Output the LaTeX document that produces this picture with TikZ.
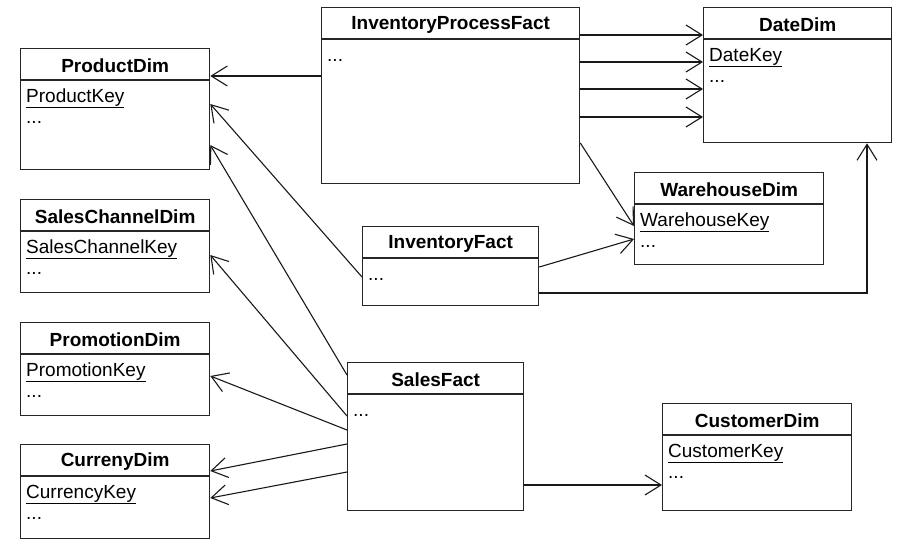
\documentclass[tikz,border=0pt]{standalone}
\usepackage{fontspec}
\setmainfont{Liberation Sans}
\usetikzlibrary{arrows.meta}
\tikzset{
  tbl/.style={draw=black!85, line width=1.3pt, rectangle, anchor=north west, inner sep=0pt},
  hdr/.style={draw=black!85, line width=1.3pt},
  ttl/.style={font=\fontsize{19}{21}\selectfont\bfseries, anchor=center, inner sep=0pt},
  attr/.style={font=\fontsize{19}{21}\selectfont, anchor=base west, inner sep=0pt},
  arr/.style={draw=black!90, line width=1.1pt, -{Straight Barb[length=16pt,width=20pt,line width=1.1pt]}},
}
% name, x, y, width, height, title
\newcommand\umltab[6]{%
  \node[tbl, minimum width=#4pt, minimum height=#5pt] (#1) at (#2,#3) {};
  \draw[hdr] ([yshift=-32pt]#1.north west) -- ([yshift=-32pt]#1.north east);
  \node[ttl] (#1-t) at ([yshift=-18pt]#1.north) {#6};
}
\begin{document}
\begin{tikzpicture}[x=1pt,y=-1pt]
\useasboundingbox (0,0) rectangle (897,549);
% dimensions
\umltab{prod}{20}{48}{189}{121}{ProductDim}
\node[attr] (prod-k) at ([xshift=6pt,yshift=-54pt]prod.north west) {\underline{ProductKey}};
\node[attr] (prod-d) at ([xshift=6pt,yshift=-75pt]prod.north west) {...};
\umltab{chan}{20}{199}{189}{93}{SalesChannelDim}
\node[attr] (chan-k) at ([xshift=6pt,yshift=-54pt]chan.north west) {\underline{SalesChannelKey}};
\node[attr] (chan-d) at ([xshift=6pt,yshift=-75pt]chan.north west) {...};
\umltab{promo}{20}{322}{189}{93}{PromotionDim}
\node[attr] (promo-k) at ([xshift=6pt,yshift=-54pt]promo.north west) {\underline{PromotionKey}};
\node[attr] (promo-d) at ([xshift=6pt,yshift=-75pt]promo.north west) {...};
\umltab{curr}{20}{444}{189}{94}{CurrenyDim}
\node[attr] (curr-k) at ([xshift=6pt,yshift=-54pt]curr.north west) {\underline{CurrencyKey}};
\node[attr] (curr-d) at ([xshift=6pt,yshift=-75pt]curr.north west) {...};
\umltab{date}{703}{7}{188}{135}{DateDim}
\node[attr] (date-k) at ([xshift=6pt,yshift=-54pt]date.north west) {\underline{DateKey}};
\node[attr] (date-d) at ([xshift=6pt,yshift=-75pt]date.north west) {...};
\umltab{wh}{634}{172}{189}{92}{WarehouseDim}
\node[attr] (wh-k) at ([xshift=6pt,yshift=-54pt]wh.north west) {\underline{WarehouseKey}};
\node[attr] (wh-d) at ([xshift=6pt,yshift=-75pt]wh.north west) {...};
\umltab{cust}{662}{403}{189}{107}{CustomerDim}
\node[attr] (cust-k) at ([xshift=6pt,yshift=-54pt]cust.north west) {\underline{CustomerKey}};
\node[attr] (cust-d) at ([xshift=6pt,yshift=-75pt]cust.north west) {...};
% facts
\umltab{ipf}{321}{7}{258}{176}{InventoryProcessFact}
\node[attr] (ipf-d) at ([xshift=6pt,yshift=-54pt]ipf.north west) {...};
\umltab{inv}{362}{226}{176}{79}{InventoryFact}
\node[attr] (inv-d) at ([xshift=6pt,yshift=-54pt]inv.north west) {...};
\umltab{sales}{347}{362}{176}{148}{SalesFact}
\node[attr] (sales-d) at ([xshift=6pt,yshift=-54pt]sales.north west) {...};
% connectors
\draw[arr] ([yshift=-69pt]ipf.north west) -- ([yshift=-28pt]prod.north east);
\draw[arr] ([yshift=-51pt]inv.north west) -- ([yshift=-56pt]prod.north east);
\draw[arr] ([yshift=-13pt]sales.north west) -- ([yshift=-97pt]prod.north east);
\draw[arr] ([yshift=-54pt]sales.north west) -- ([yshift=-56pt]chan.north east);
\draw[arr] ([yshift=-68pt]sales.north west) -- ([yshift=-54pt]promo.north east);
\draw[arr] ([yshift=-82pt]sales.north west) -- ([yshift=-27pt]curr.north east);
\draw[arr] ([yshift=-110pt]sales.north west) -- ([yshift=-54pt]curr.north east);
\draw[arr] ([yshift=-123pt]sales.north east) -- ([yshift=-82pt]cust.north west);
\draw[arr] ([yshift=-28pt]ipf.north east) -- ([yshift=-28pt]date.north west);
\draw[arr] ([yshift=-55pt]ipf.north east) -- ([yshift=-55pt]date.north west);
\draw[arr] ([yshift=-82pt]ipf.north east) -- ([yshift=-82pt]date.north west);
\draw[arr] ([yshift=-110pt]ipf.north east) -- ([yshift=-110pt]date.north west);
\draw[arr] ([yshift=-136pt]ipf.north east) -- ([yshift=-54pt]wh.north west);
\draw[arr] ([yshift=-41pt]inv.north east) -- ([yshift=-67pt]wh.north west);
\draw[arr] ([yshift=-67pt]inv.north east) -| ([xshift=164pt]date.south west);
\end{tikzpicture}
\end{document}
